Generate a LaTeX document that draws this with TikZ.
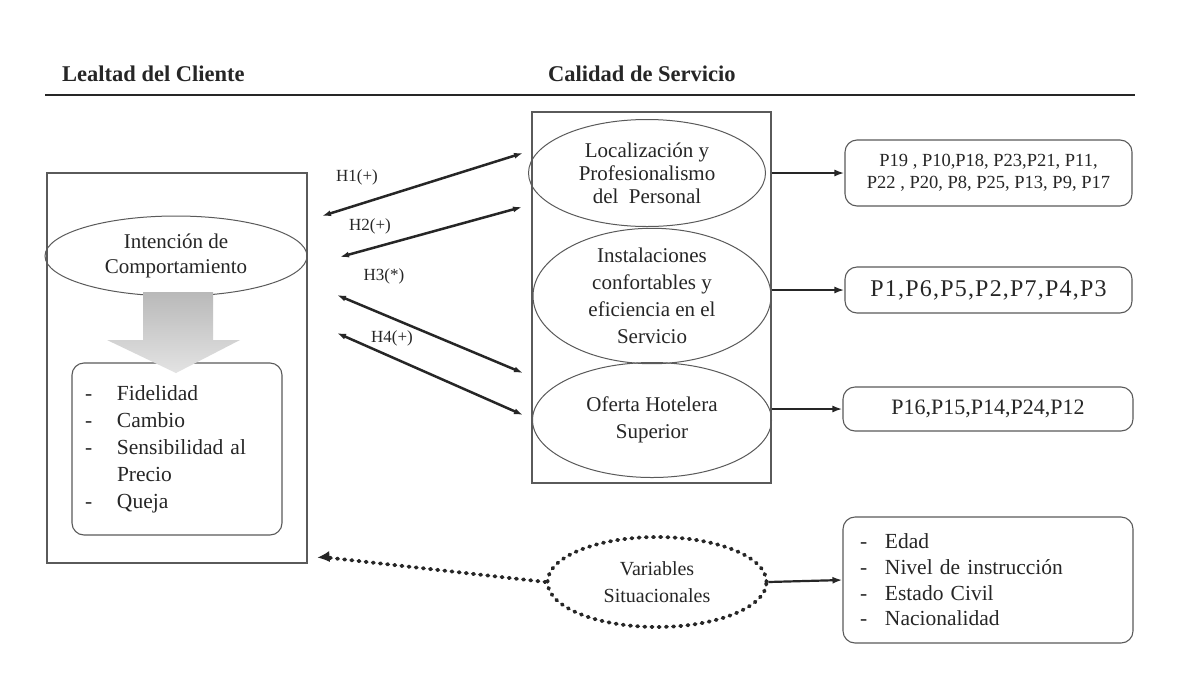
\documentclass[tikz,border=0pt]{standalone}
\usepackage{fontspec}
\setmainfont{Liberation Serif}
\usetikzlibrary{arrows.meta,shapes.geometric}
\definecolor{ink}{HTML}{262626}
\definecolor{frame}{HTML}{5a5a5a}
\begin{document}
\begin{tikzpicture}[x=1pt,y=-1pt,
  every node/.style={text=ink},
  title/.style={font=\fontsize{22.5}{25}\bfseries\selectfont, anchor=west, inner sep=0pt},
  bigtxt/.style={font=\fontsize{21}{25}\selectfont},
  frbox/.style={draw=frame, line width=1.1pt, rectangle, inner sep=0pt},
  ell/.style={draw=frame, line width=1pt, ellipse, inner sep=0pt, align=center},
  rbox/.style={draw=frame, line width=1.1pt, rounded corners=12pt, inner sep=0pt, align=center},
  conn/.style={draw=ink, line width=2.2pt, -{Latex[length=10pt,width=7pt]}},
  hyp/.style={draw=ink, line width=2.5pt, {Latex[length=9pt,width=6pt]}-{Latex[length=9pt,width=6pt]}},
  hlab/.style={font=\fontsize{17}{20}\selectfont, inner sep=0pt},
  dotline/.style={draw=ink, line width=3.8pt, dash pattern=on 1.2pt off 6pt, line cap=round},
]
\useasboundingbox (0,0) rectangle (1190,675);
\fill[white] (0,0) rectangle (1190,675);

% titles and rule
\node[title] (t1) at (62,74) {Lealtad del Cliente};
\node[title] (t2) at (548,74) {Calidad de Servicio};
\coordinate (rl) at (45,95);
\coordinate (rr) at (1135,95);
\draw[ink, line width=2.2pt] (rl) -- (rr);

% left block
\node[frbox, minimum width=260pt, minimum height=390pt] (lbox) at (177,368) {};
\node[ell, bigtxt, minimum width=262pt, minimum height=80pt] (intent) at (176,256)
  {Intención de\\Comportamiento};
\node[rbox, minimum width=210pt, minimum height=172pt, text width=184pt, align=left,
      font=\fontsize{21.5}{27}\selectfont] (lista) at (177,449)
  {\makebox[32pt][l]{-}Fidelidad\\
   \makebox[32pt][l]{-}Cambio\\
   \makebox[32pt][l]{-}Sensibilidad al\\
   \hspace*{32pt}Precio\\
   \makebox[32pt][l]{-}Queja};
\shade[top color=gray!55, bottom color=gray!22] (143,292) -- (213,292) -- (213,340) -- (240,340) -- (176,373)
   -- (107,340) -- (143,340) -- cycle;

% middle block
\node[frbox, minimum width=239pt, minimum height=371pt] (mbox) at (651.5,297.5) {};
\node[ell, font=\fontsize{21}{23}\selectfont, minimum width=237pt, minimum height=107pt] (e1) at (647,173)
  {Localización y\\Profesionalismo\\del~~Personal};
\node[ell, font=\fontsize{21}{27}\selectfont, minimum width=238pt, minimum height=118pt] (e2) at (652,296)
  {Instalaciones\\confortables y\\eficiencia en el\\Servicio};
\node[ell, font=\fontsize{21}{27}\selectfont, minimum width=239pt, minimum height=115pt] (e3) at (652,420)
  {Oferta Hotelera\\Superior};

% right boxes
\node[rbox, font=\fontsize{18.5}{22}\selectfont, minimum width=287pt, minimum height=66pt] (r1) at (988.5,173)
  {P19 , P10,P18, P23,P21, P11,\\P22 , P20, P8, P25, P13, P9, P17};
\node[rbox, font=\fontsize{24}{26}\selectfont\addfontfeatures{LetterSpace=5}, minimum width=287pt, minimum height=46pt] (r2) at (988.5,290)
  {P1,P6,P5,P2,P7,P4,P3};
\node[rbox, font=\fontsize{22}{25}\selectfont, minimum width=290pt, minimum height=44pt] (r3) at (988,409)
  {P16,P15,P14,P24,P12};
\node[rbox, font=\fontsize{21.5}{25.7}\selectfont, minimum width=290pt, minimum height=126pt,
      text width=256pt, align=left] (r4) at (988,580)
  {\makebox[25pt][l]{-}Edad\\
   \makebox[25pt][l]{-}Nivel de instrucción\\
   \makebox[25pt][l]{-}Estado Civil\\
   \makebox[25pt][l]{-}Nacionalidad};

% situational variables
\node[ell, dotline, font=\fontsize{20}{27}\selectfont, minimum width=219pt, minimum height=90pt] (vs) at (657,582)
  {Variables\\Situacionales};

% connectors to right boxes
\draw[conn] (r1.west -| mbox.east) -- (r1.west);
\draw[conn] (r2.west -| mbox.east) -- (r2.west);
\draw[conn] (r3.west -| mbox.east) -- (r3.west);
\draw[conn] (vs.east) -- (r4.west);

% dotted arrow to loyalty box
\coordinate (vsend) at ([shift={(10pt,6pt)}]lbox.south east);
\draw[dotline] (vs.west) -- ([shift={(10pt,0pt)}]vsend);
\draw[ink, line width=1pt, -{Latex[length=12pt,width=11pt]}] ([shift={(12pt,1pt)}]vsend) -- (vsend);

% hypothesis arrows
\coordinate (h1r) at (523,153); \coordinate (h1l) at (322,216);
\coordinate (h2r) at (522,207); \coordinate (h2l) at (340,257);
\coordinate (h3r) at (523,373); \coordinate (h3l) at (337,295);
\coordinate (h4r) at (523,415); \coordinate (h4l) at (337,333);
\draw[hyp] (h1l) -- (h1r);
\draw[hyp] (h2l) -- (h2r);
\draw[hyp] (h3l) -- (h3r);
\draw[hyp] (h4l) -- (h4r);
\node[hlab] (l1) at (357,177) {H1(+)};
\node[hlab] (l2) at (370,226) {H2(+)};
\node[hlab] (l3) at (384,276) {H3(*)};
\node[hlab] (l4) at (392,338) {H4(+)};
\end{tikzpicture}
\end{document}
